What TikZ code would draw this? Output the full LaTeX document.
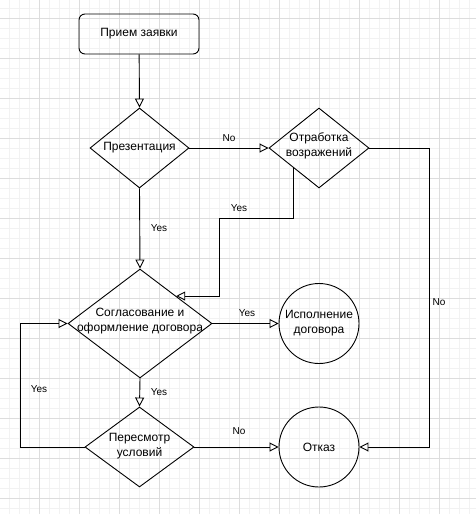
\documentclass[tikz,border=0pt]{standalone}
\usepackage{fontspec}
\setmainfont{Liberation Sans}
\usetikzlibrary{shapes.geometric,arrows.meta}
\definecolor{gridminor}{HTML}{F2F2F2}
\definecolor{gridmajor}{HTML}{DDDDDD}
\tikzset{
  box/.style={draw, line width=0.9pt, rounded corners=6pt, minimum width=120pt, minimum height=40pt, inner sep=0pt, font=\fontsize{12}{15}\selectfont},
  dia/.style={draw, line width=0.9pt, diamond, inner sep=0pt},
  circ/.style={draw, line width=0.9pt, circle, minimum size=80pt, inner sep=0pt},
  txt/.style={align=center, inner sep=0pt, font=\fontsize{12}{15}\selectfont},
  lbl/.style={inner sep=0pt, font=\fontsize{10}{12}\selectfont},
  conn/.style={line width=0.9pt, -{Triangle[open, length=9pt, width=9pt, fill=white]}},
  plain/.style={line width=0.9pt}
}
\begin{document}
\begin{tikzpicture}[x=1pt,y=-1pt]
\useasboundingbox (0,0) rectangle (476,514);
\fill[white] (0,0) rectangle (476,514);
\foreach \x in {9.5,19.5,...,475} \draw[gridminor, line width=0.8pt] (\x,0) -- (\x,514);
\foreach \y in {8,18,...,514} \draw[gridminor, line width=0.8pt] (0,\y) -- (476,\y);
\foreach \x in {39.5,79.5,...,475} \draw[gridmajor, line width=0.8pt] (\x,0) -- (\x,514);
\foreach \y in {18,58,...,514} \draw[gridmajor, line width=0.8pt] (0,\y) -- (476,\y);

\node[box] (start) at (139,34) {Прием заявки};
\node[dia, minimum width=99pt, minimum height=80pt] (pres) at (139.5,148) {};
\node[txt] (prest) at (pres) {Презентация};
\node[dia, minimum width=100pt, minimum height=80pt] (otr) at (319,148) {};
\node[txt] (otrt) at (319,146) {Отработка\\возражений};
\node[dia, minimum width=144pt, minimum height=109pt] (sog) at (140,323.5) {};
\node[txt] (sogt) at (140,321) {Согласование и\\оформление договора};
\node[circ] (isp) at (319,323.5) {};
\node[txt] (ispt) at (319,323.5) {Исполнение\\договора};
\node[dia, minimum width=109pt, minimum height=80pt] (per) at (139.5,447) {};
\node[txt] (pert) at (139.5,446.5) {Пересмотр\\условий};
\node[circ] (otk) at (319,447) {};
\node[txt] (otkt) at (319,447) {Отказ};

\coordinate (r1) at (429,447);
\coordinate (l1) at (20,323.5);

\draw[conn] (start) -- (pres.north);
\draw[conn] (pres.east) -- (otr.west);
\draw[conn] (pres.south) -- (sog.north);
\draw[conn] (otr.south west) |- (219,218) |- (sog.north east);
\draw[conn] (otr.east) -| (r1) -- (otk.east);
\draw[conn] (sog.east) -- (isp.west);
\draw[conn] (sog.south) -- (per.north);
\draw[conn] (per.east) -- (otk.west);
\draw[conn] (per.west) -| (l1) -- (sog.west);

\node[lbl] (n1) at (229,138) {No};
\node[lbl] (n2) at (439,302) {No};
\node[lbl] (n3) at (239,431) {No};
\node[lbl] (y1) at (239,208) {Yes};
\node[lbl] (y2) at (159,228) {Yes};
\node[lbl] (y3) at (247,313) {Yes};
\node[lbl] (y4) at (159,392) {Yes};
\node[lbl] (y5) at (39,389) {Yes};
\end{tikzpicture}
\end{document}
